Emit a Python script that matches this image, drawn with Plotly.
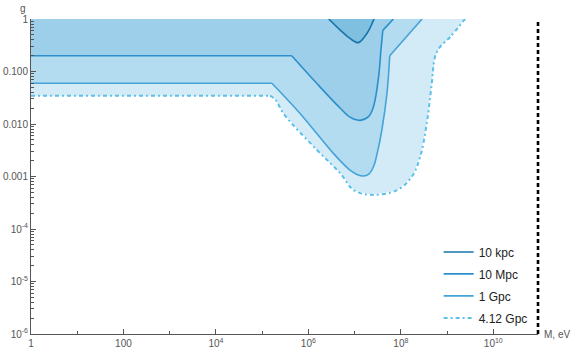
import plotly.graph_objects as go

# boundary curves: log10(M / eV), log10(g)
logm_4gpc = [0.0, 5.17, 5.30, 5.46, 6.18, 6.69, 6.98, 7.37, 7.92, 8.24, 8.42, 8.56, 8.67, 8.74, 8.85, 9.07, 9.39]
logg_4gpc = [-1.46, -1.46, -1.55, -1.80, -2.49, -2.94, -3.26, -3.35, -3.26, -3.00, -2.62, -1.99, -1.22, -0.72, -0.53, -0.34, 0.0]

logm_1gpc = [0.0, 5.21, 5.82, 6.54, 6.90, 7.05, 7.19, 7.30, 7.41, 7.49, 7.59, 7.70, 7.76, 8.46]
logg_1gpc = [-1.225, -1.225, -1.80, -2.56, -2.88, -2.96, -2.99, -2.96, -2.81, -2.55, -2.11, -1.415, -0.70, 0.0]

logm_10mpc = [0.0, 5.64, 6.18, 6.69, 6.90, 7.12, 7.30, 7.41, 7.52, 7.57, 7.61, 7.84]
logg_10mpc = [-0.70, -0.70, -1.225, -1.70, -1.87, -1.93, -1.86, -1.665, -1.095, -0.585, -0.217, 0.0]

logm_10kpc = [6.44, 6.70, 6.90, 7.08, 7.27, 7.42]
logg_10kpc = [0.0, -0.22, -0.37, -0.45, -0.27, 0.0]

names = ["10 kpc", "10 Mpc", "1 Gpc", "4.12 Gpc"]
fill_colors = ["#7fc0e1", "#9dcfea", "#b4dcf0", "#d3ebf7"]
line_colors = ["#1874aa", "#2b8fcb", "#45a3d8", "#5cc0ea"]
dashes = ["solid", "solid", "solid", "4px,3px,2px,3px"]

x_tickvals = [1, 100, 1e4, 1e6, 1e8, 1e10]
x_ticktext = ["1", "100", "10<sup>4</sup>", "10<sup>6</sup>", "10<sup>8</sup>", "10<sup>10</sup>"]
y_tickvals = [1, 0.1, 0.01, 0.001, 1e-4, 1e-5, 1e-6]
y_ticktext = ["1", "0.100", "0.010", "0.001", "10<sup>-4</sup>", "10<sup>-5</sup>", "10<sup>-6</sup>"]

# (curve, index where the smooth part starts, index where it ends)
# straight pieces before/after are drawn as straight lines (sharp kinks)
curves = [
    (logm_10kpc, logg_10kpc, 0, len(logm_10kpc) - 1),
    (logm_10mpc, logg_10mpc, 1, len(logm_10mpc) - 2),
    (logm_1gpc, logg_1gpc, 1, len(logm_1gpc) - 2),
    (logm_4gpc, logg_4gpc, 1, len(logm_4gpc) - 1),
]

fig = go.Figure()

# fills, largest region first
for i in [3, 2, 1, 0]:
    lm, lg, a, b = curves[i]
    xs = [10 ** v for v in lm]
    ys = [10 ** v for v in lg]
    if lm[0] == 0.0:
        xs = xs + [1]
        ys = ys + [1]
    fig.add_trace(go.Scatter(x=xs, y=ys, mode="lines", fill="toself",
                             fillcolor=fill_colors[i], line=dict(width=0),
                             showlegend=False, hoverinfo="skip"))

# boundary lines
for i in [3, 2, 1, 0]:
    lm, lg, a, b = curves[i]
    width = 1.6 if i < 3 else 2
    pieces = [(0, a, "linear"), (a, b, "spline"), (b, len(lm) - 1, "linear")]
    first = True
    for s, e, shape in pieces:
        if e <= s:
            continue
        fig.add_trace(go.Scatter(
            x=[10 ** v for v in lm[s:e + 1]], y=[10 ** v for v in lg[s:e + 1]],
            mode="lines", name=names[i], legendgroup=names[i], showlegend=first,
            line=dict(color=line_colors[i], width=width, dash=dashes[i],
                      shape=shape, smoothing=1.0),
            legendrank=i, hoverinfo="skip",
        ))
        first = False

font = "Liberation Sans, Arial, sans-serif"
axis_common = dict(
    type="log", showgrid=False, zeroline=False, showline=True, automargin=False,
    linecolor="#555555", linewidth=1, ticks="inside", ticklen=5,
    tickcolor="#555555", tickfont=dict(size=10, color="#555555", family=font),
)

fig.update_xaxes(
    range=[0, 10.967], tickvals=x_tickvals, ticktext=x_ticktext,
    minor=dict(tickvals=[10, 1e3, 1e5, 1e7, 1e9], ticks="inside", ticklen=3,
               tickcolor="#555555"),
    **axis_common,
)
y_minor = [m * 10 ** e for e in range(-6, 0) for m in range(2, 10)]
fig.update_yaxes(
    range=[-6, 0], tickvals=y_tickvals, ticktext=y_ticktext,
    minor=dict(tickvals=y_minor, ticks="inside", ticklen=3, tickcolor="#555555"),
    **axis_common,
)

fig.add_shape(type="line", xref="paper", yref="paper", x0=1, x1=1, y0=0, y1=1,
              line=dict(color="black", width=2.6, dash="4px,3px"))

fig.add_annotation(text="g", xref="paper", yref="paper", x=-0.006, y=1.01,
                   xanchor="right", yanchor="bottom", showarrow=False,
                   font=dict(size=10, color="#555555", family=font))
fig.add_annotation(text="M, eV", xref="paper", yref="paper", x=1.008, y=0,
                   xanchor="left", yanchor="middle", showarrow=False,
                   font=dict(size=10, color="#555555", family=font))

fig.update_layout(
    width=576, height=353,
    margin=dict(l=31, r=38, t=19, b=19),
    plot_bgcolor="white", paper_bgcolor="white",
    legend=dict(x=0.804, y=0.005, xanchor="left", yanchor="bottom",
                bgcolor="rgba(0,0,0,0)", font=dict(size=12, color="#222222", family=font),
                tracegroupgap=3),
)

# drop the page's default body margin so the figure sits at the window corner
fig.write_html("out.html", config={"displayModeBar": False},
               post_script="document.body.style.margin='0';")
